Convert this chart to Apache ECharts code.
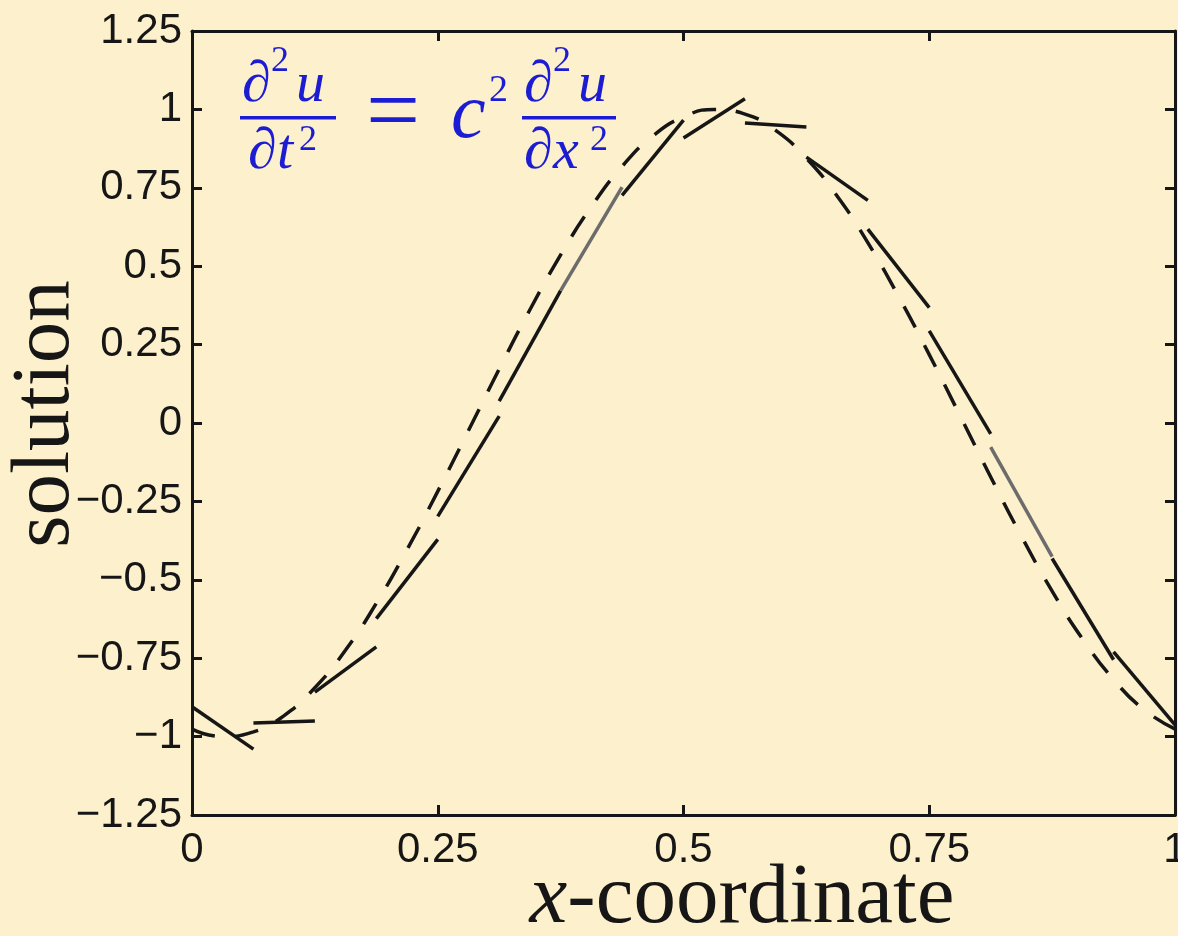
<!DOCTYPE html>
<html>
<head>
<meta charset="utf-8">
<style>
  html, body { margin: 0; padding: 0; background: #fdf0cc; }
  #chart { width: 1178px; height: 936px; }
</style>
<script src="https://cdn.jsdelivr.net/npm/echarts@6/dist/echarts.min.js"></script>
</head>
<body>
<div id="chart"></div>
<script>
// Element edges of the 16-cell mesh on [0, 1]
const nodes = [0, 0.0625, 0.125, 0.1875, 0.25, 0.3125, 0.375, 0.4375, 0.5,
               0.5625, 0.625, 0.6875, 0.75, 0.8125, 0.875, 0.9375, 1];
// Piecewise-linear numerical solution: value at left and right end of each cell
const cellLeft  = [-0.905, -0.957, -0.858, -0.624, -0.298, 0.070, 0.422, 0.726,
                    0.909,  0.957,  0.848,  0.618,  0.294, -0.077, -0.432, -0.730];
const cellRight = [-1.040, -0.950, -0.714, -0.371,  0.022, 0.422, 0.752, 0.966,
                    1.034,  0.944,  0.710,  0.368, -0.035, -0.426, -0.755, -0.963];
// Cells drawn in a lighter grey
const greyCells = [6, 13];

// Exact solution sampled on a finer grid
const exactX = [0, 0.03125, 0.0625, 0.09375, 0.125, 0.15625, 0.1875, 0.21875, 0.25,
                0.28125, 0.3125, 0.34375, 0.375, 0.40625, 0.4375, 0.46875, 0.5,
                0.53125, 0.5625, 0.59375, 0.625, 0.65625, 0.6875, 0.71875, 0.75,
                0.78125, 0.8125, 0.84375, 0.875, 0.90625, 0.9375, 0.96875, 1];
const exactU = [-0.976, -1.000, -0.985, -0.933, -0.844, -0.724, -0.575, -0.404, -0.218,
                -0.024,  0.172,  0.361,  0.536,  0.690,  0.818,  0.915,  0.976,
                 1.000,  0.985,  0.933,  0.844,  0.724,  0.575,  0.404,  0.218,
                 0.024, -0.172, -0.361, -0.536, -0.690, -0.818, -0.915, -0.976];

// Tick labels
const xTickLabels = ['0', '0.25', '0.5', '0.75', '1'];
const yTickLabels = ['\u22121.25', '\u22121', '\u22120.75', '\u22120.5', '\u22120.25', '0',
                     '0.25', '0.5', '0.75', '1', '1.25'];
const xMin = 0, xMax = 1, xStep = 0.25;
const yMin = -1.25, yMax = 1.25, yStep = 0.25;

const ink = '#161616';
const bg = '#fdf0cc';
const blue = '#1c1cd2';

const chart = echarts.init(document.getElementById('chart'), null, { renderer: 'canvas' });

const solidSeries = cellLeft.map((v, i) => ({
  type: 'line',
  data: [[nodes[i], v], [nodes[i + 1], cellRight[i]]],
  symbol: 'none',
  silent: true,
  z: 3,
  lineStyle: { color: greyCells.includes(i) ? '#6c6c6c' : ink, width: 3.5, cap: 'butt' }
}));

const exactSeries = {
  type: 'line',
  data: exactX.map((x, i) => [x, exactU[i]]),
  symbol: 'none',
  smooth: true,
  silent: true,
  z: 2,
  lineStyle: { color: ink, width: 3.5, type: [24, 20], cap: 'butt' }
};

const tickFont = { fontFamily: '"Liberation Sans", Arial, sans-serif', fontSize: 42, color: ink };
const boxAxisLine = { show: true, onZero: false, lineStyle: { color: ink, width: 3 } };
const boxTick = { show: true, inside: true, length: 10, lineStyle: { color: ink, width: 3 } };

// Pieces of the wave equation, placed as text
const serif = '"Liberation Serif", "Times New Roman", serif';
function piece(str, x, baseline, size, italic) {
  return {
    type: 'text', x: x, y: baseline - 0.3 * size, z: 10,
    style: {
      text: str, fill: blue, font: (italic ? 'italic ' : '') + size + 'px ' + serif,
      textAlign: 'left', textVerticalAlign: 'middle'
    }
  };
}
function bar(x, y, w) {
  return { type: 'rect', z: 10, shape: { x: x, y: y, width: w, height: 3.5 }, style: { fill: blue } };
}

const formula = [
  piece('\u2202', 242, 103, 58, true),
  piece('2', 271, 72, 36, false),
  piece('u', 296, 103, 58, true),
  bar(240, 116, 96),
  piece('\u2202', 248, 170, 58, true),
  piece('t', 277, 170, 58, true),
  piece('2', 299, 151, 36, false),
  {
    type: 'text', x: 393, y: 117, z: 10,
    style: { text: '=', fill: blue, font: '96px ' + serif, textAlign: 'center', textVerticalAlign: 'middle' }
  },
  piece('c', 451, 140, 78, true),
  piece('2', 489, 102, 38, false),
  piece('\u2202', 524, 103, 58, true),
  piece('2', 553, 72, 36, false),
  piece('u', 578, 103, 58, true),
  bar(522, 116, 94),
  piece('\u2202', 524, 170, 58, true),
  piece('x', 553, 170, 58, true),
  piece('2', 590, 151, 36, false)
];

const axisNames = [
  {
    type: 'text', x: 742, y: 900, z: 10,
    style: {
      text: '{i|x}{r|-coordinate}', textAlign: 'center', textVerticalAlign: 'middle',
      rich: {
        i: { fontFamily: serif, fontStyle: 'italic', fontSize: 85, fill: ink, color: ink },
        r: { fontFamily: serif, fontSize: 85, fill: ink, color: ink }
      }
    }
  },
  {
    type: 'text', x: 46, y: 414, rotation: Math.PI / 2, z: 1,
    style: {
      text: 'solution', fill: ink, font: '83px ' + serif,
      textAlign: 'center', textVerticalAlign: 'middle'
    }
  }
];

chart.setOption({
  backgroundColor: bg,
  animation: false,
  grid: { left: 192, right: 3, top: 31, bottom: 121, containLabel: false, outerBoundsMode: 'none' },
  xAxis: [
    {
      type: 'value', min: xMin, max: xMax, interval: xStep, position: 'bottom',
      axisLine: boxAxisLine, axisTick: boxTick, splitLine: { show: false },
      axisLabel: Object.assign({ margin: 14, hideOverlap: false,
        formatter: v => xTickLabels[Math.round((v - xMin) / xStep)] }, tickFont)
    },
    {
      type: 'value', min: xMin, max: xMax, interval: xStep, position: 'top',
      axisLine: boxAxisLine, axisTick: boxTick, splitLine: { show: false },
      axisLabel: { show: false }
    }
  ],
  yAxis: [
    {
      type: 'value', min: yMin, max: yMax, interval: yStep, position: 'left',
      axisLine: boxAxisLine, axisTick: boxTick, splitLine: { show: false },
      axisLabel: Object.assign({ margin: 10,
        formatter: v => yTickLabels[Math.round((v - yMin) / yStep)] }, tickFont)
    },
    {
      type: 'value', min: yMin, max: yMax, interval: yStep, position: 'right',
      axisLine: boxAxisLine, axisTick: boxTick, splitLine: { show: false },
      axisLabel: { show: false }
    }
  ],
  series: [exactSeries].concat(solidSeries),
  graphic: formula.concat(axisNames)
});
</script>
</body>
</html>
